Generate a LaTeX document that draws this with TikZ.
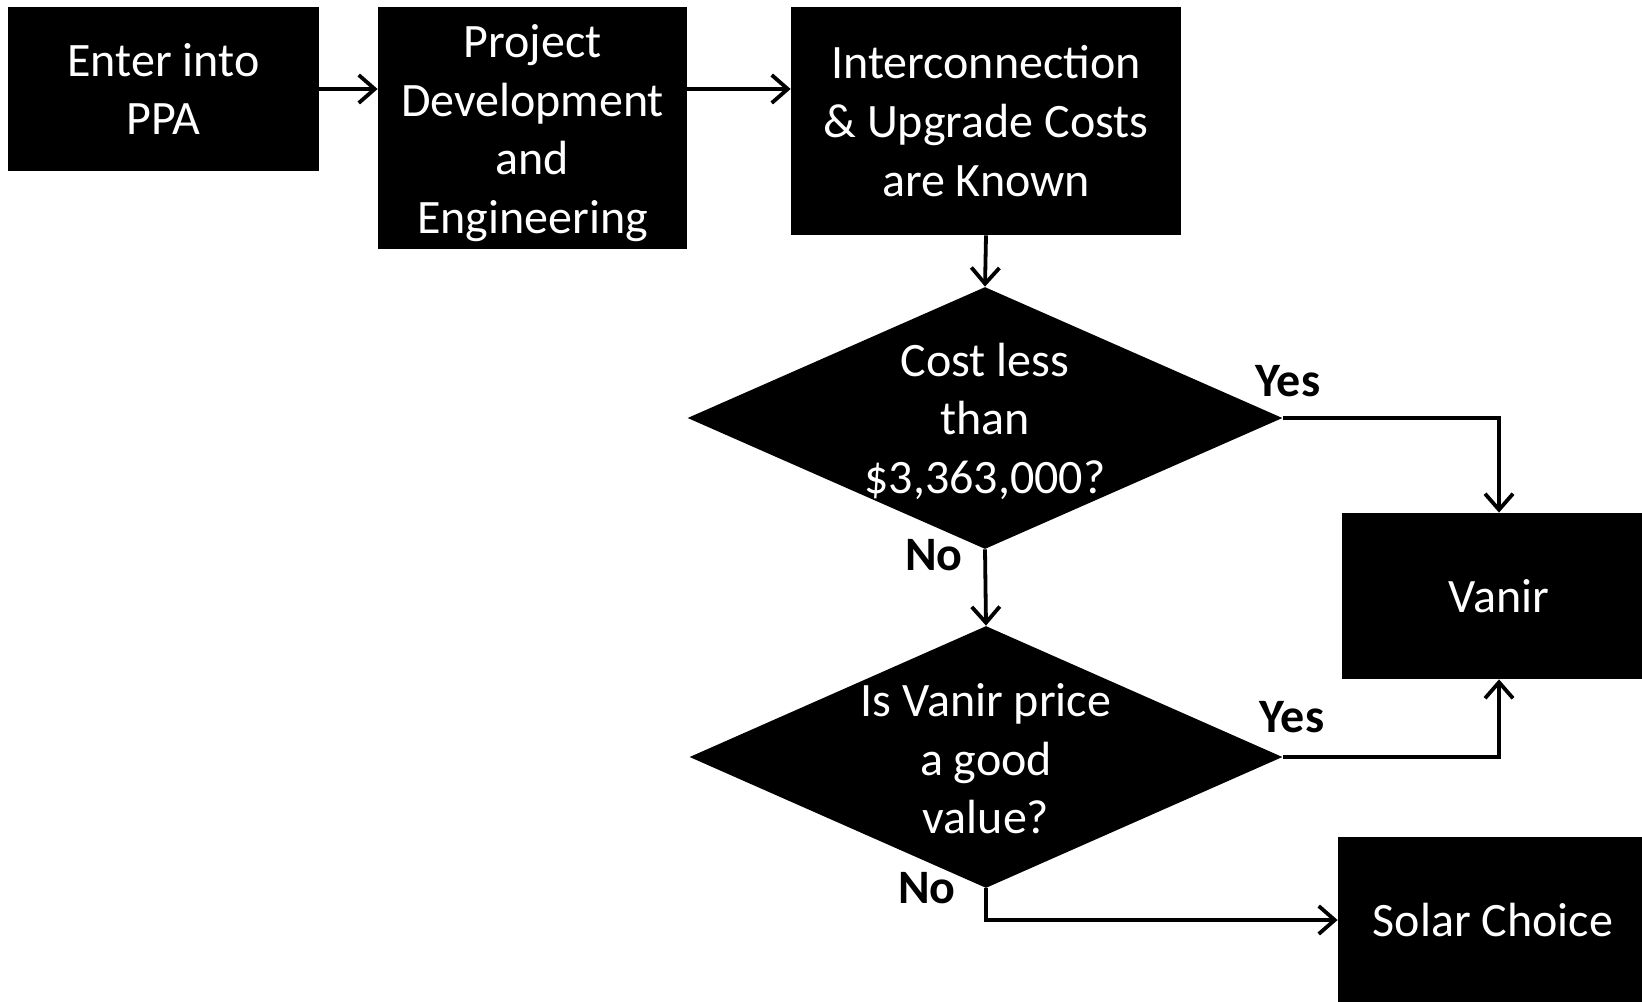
\documentclass[tikz,border=0pt]{standalone}
\usepackage{fontspec}
\setmainfont{Carlito}
\usetikzlibrary{arrows.meta,shapes.geometric}
\begin{document}
\begin{tikzpicture}[x=0.5pt,y=-0.5pt,
  txtfont/.style={font=\fontsize{24}{29.3}\selectfont},
  blk/.style={rectangle,fill=black,draw=none,text=white,align=center,inner sep=0pt,txtfont},
  dia/.style={diamond,fill=black,draw=none,inner sep=0pt},
  dtxt/.style={text=white,align=center,inner sep=0pt,txtfont},
  lbl/.style={font=\fontsize{24}{29.3}\selectfont\bfseries,inner sep=0pt},
  arr/.style={line width=1.9pt,-{Straight Barb[length=8pt,width=14pt,line width=1.9pt]}}]
\useasboundingbox[fill=white] (0,0) rectangle (1642,1001);
\node[blk,minimum width=155.5pt,minimum height=82pt] (b1) at (163.5,89) {Enter into\\PPA};
\node[blk,minimum width=154.5pt,minimum height=121pt] (b2) at (532.5,128) {};
\node[dtxt,yshift=-2.5pt] (b2t) at (b2.center) {Project\\Development\\and\\Engineering};
\node[blk,minimum width=195pt,minimum height=114pt] (b3) at (986,121) {Interconnection\\\& Upgrade Costs\\are Known};
\node[dia,minimum width=297.5pt,minimum height=131pt] (d1) at (985,418) {};
\node[dtxt,yshift=-1.5pt] (d1t) at (d1.center) {Cost less\\than\\\$3,363,000?};
\node[dia,minimum width=296.5pt,minimum height=131pt] (d2) at (986,757) {};
\node[dtxt,yshift=-1pt] (d2t) at (d2.center) {Is Vanir price\\a good\\value?};
\node[blk,minimum width=157pt,minimum height=83pt] (v) at (1499,596) {Vanir};
\node[blk,minimum width=155pt,minimum height=83pt] (s) at (1493,920) {Solar Choice};
\draw[arr] (b1.east) -- (b1.east -| b2.west);
\draw[arr] (b1.east -| b2.east) -- (b1.east -| b3.west);
\draw[arr] (b3.south) -- (d1.north);
\draw[arr] (d1.east) -| (v.north);
\draw[arr] (d1.south) -- (d2.north);
\draw[arr] (d2.east) -| (v.south);
\draw[arr] (d2.south) |- (s.west);
\node[lbl] (y1) at (1288,381) {Yes};
\node[lbl] (n1) at (934,555) {No};
\node[lbl] (y2) at (1292,717) {Yes};
\node[lbl] (n2) at (927,888) {No};
\end{tikzpicture}
\end{document}
